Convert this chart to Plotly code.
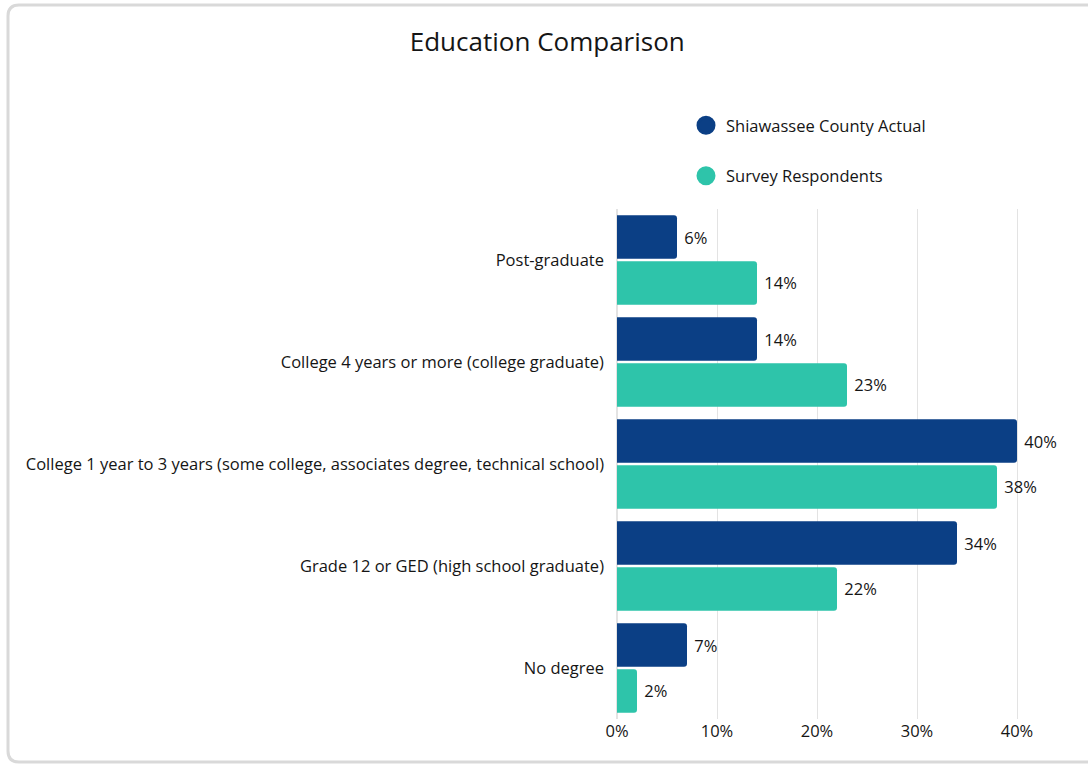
import plotly.graph_objects as go

# Education attainment shares (%)
categories = [
    "Post-graduate",
    "College 4 years or more (college graduate)",
    "College 1 year to 3 years (some college, associates degree, technical school)",
    "Grade 12 or GED (high school graduate)",
    "No degree",
]
county_actual = [6, 14, 40, 34, 7]
survey_respondents = [14, 23, 38, 22, 2]
series_names = ["Shiawassee County Actual", "Survey Respondents"]
tick_vals = [0, 10, 20, 30, 40]
tick_text = ["0%", "10%", "20%", "30%", "40%"]

NAVY = "#0b3f85"
TEAL = "#2ec4aa"
FONT = "Open Sans"
TEXT = "#151515"
FS = 16.5

W, H = 1088, 765
ML, MR, MT, MB = 617, 51, 209, 46
PW, PH = W - ML - MR, H - MT - MB


def px(x, y):
    """Pixel position -> paper coordinates."""
    return (x - ML) / PW, (H - MB - y) / PH


fig = go.Figure()
for name, vals, col in [(series_names[0], county_actual, NAVY),
                        (series_names[1], survey_respondents, TEAL)]:
    fig.add_trace(go.Bar(
        y=categories, x=vals, orientation="h", name=name,
        marker=dict(color=col, line=dict(width=0)),
        text=[f" {v}%" for v in vals], textposition="outside",
        textfont=dict(family=FONT, size=FS, color=TEXT),
        cliponaxis=False, showlegend=False,
    ))
    # circular legend entry
    fig.add_trace(go.Scatter(
        x=[None], y=[None], mode="markers", name=name, legendgroup=name,
        marker=dict(symbol="circle", size=16, color=col,
                    line=dict(color=col, width=3)),
    ))

# rounded outer frame
pts = [(1100, 5), (19, 5), (8, 5), (8, 16), (8, 751), (8, 762), (19, 762), (1100, 762)]
p = [px(*q) for q in pts]
path = (f"M {p[0][0]},{p[0][1]} L {p[1][0]},{p[1][1]} "
        f"Q {p[2][0]},{p[2][1]} {p[3][0]},{p[3][1]} L {p[4][0]},{p[4][1]} "
        f"Q {p[5][0]},{p[5][1]} {p[6][0]},{p[6][1]} L {p[7][0]},{p[7][1]}")
fig.add_shape(type="path", path=path, xref="paper", yref="paper",
              line=dict(color="#d9d9d9", width=3), layer="below")

fig.update_layout(
    width=W, height=H,
    margin=dict(l=ML, r=MR, t=MT, b=MB, autoexpand=False),
    paper_bgcolor="white", plot_bgcolor="white",
    barmode="group", bargap=0.1, bargroupgap=0.05, barcornerradius=3,
    title=dict(text="Education Comparison", x=0.503, xanchor="center",
               y=1 - 42 / H, yanchor="middle",
               font=dict(family=FONT, size=26, color=TEXT)),
    legend=dict(x=px(686, 0)[0], y=px(0, 108)[1], xanchor="left", yanchor="top",
                font=dict(family=FONT, size=FS, color=TEXT),
                tracegroupgap=26, itemsizing="trace",
                bgcolor="rgba(0,0,0,0)"),
    xaxis=dict(range=[0, 42], tickvals=tick_vals, ticktext=tick_text,
               showgrid=True, gridcolor="#e3e3e3", gridwidth=1,
               zeroline=True, zerolinecolor="#e3e3e3", showline=False,
               tickfont=dict(family=FONT, size=FS, color=TEXT), fixedrange=True),
    yaxis=dict(autorange="reversed", showgrid=False, ticklabelstandoff=12,
               tickfont=dict(family=FONT, size=FS, color=TEXT), fixedrange=True),
    font=dict(family=FONT),
)

fig.write_html("out.html")
